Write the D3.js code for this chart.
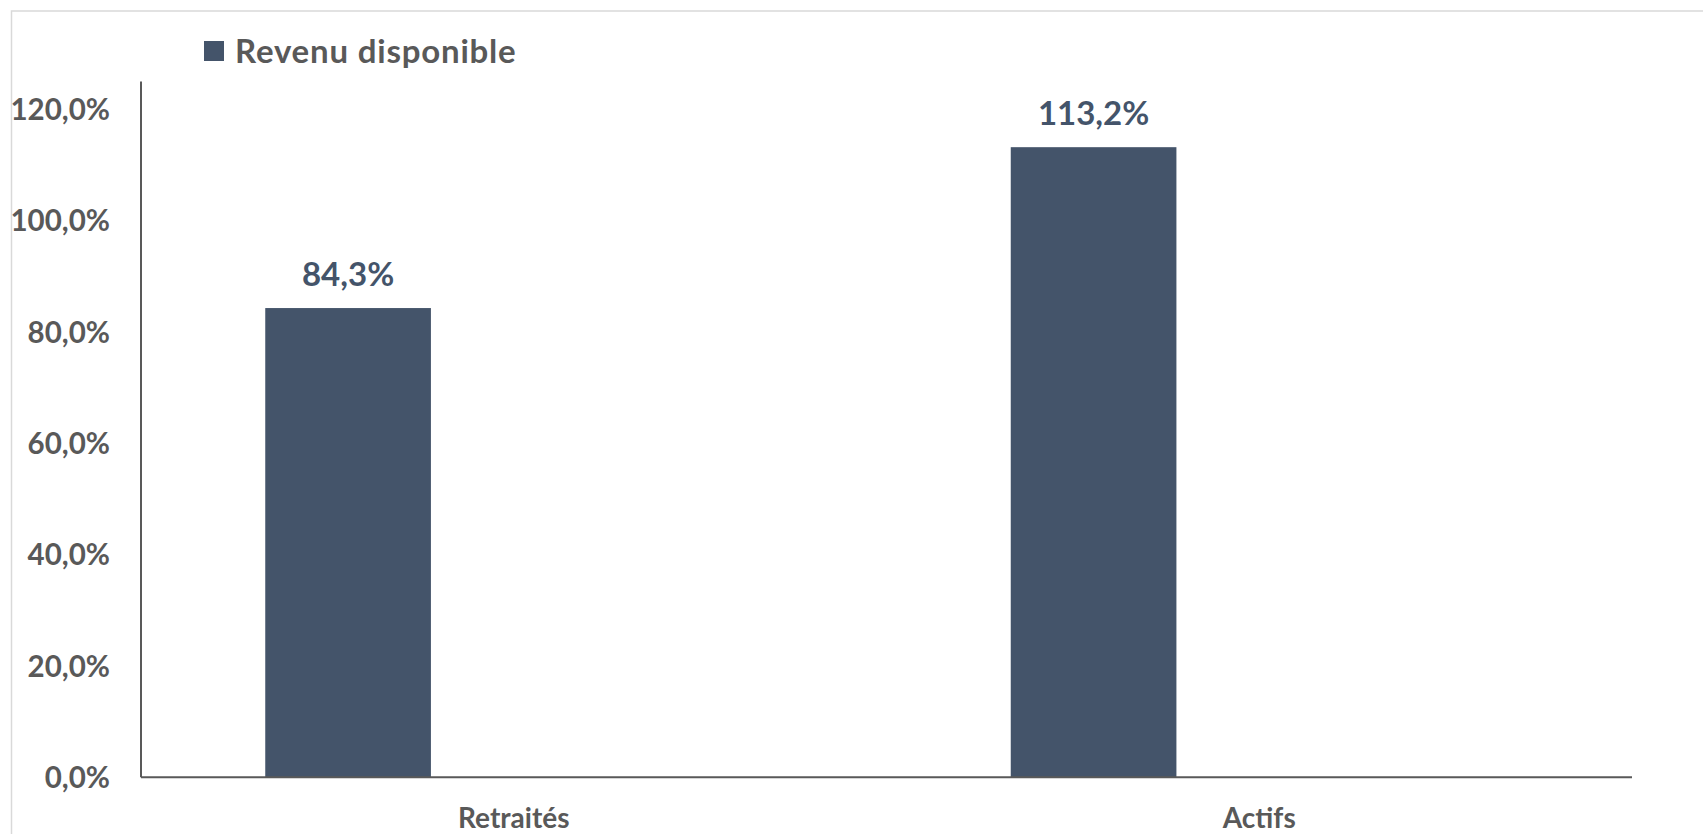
<!DOCTYPE html>
<html>
<head>
<meta charset="utf-8">
<script src="https://cdn.jsdelivr.net/npm/d3@7"></script>
<style>
  html, body { margin: 0; padding: 0; background: #ffffff; }
  svg { display: block; }
</style>
</head>
<body>
<svg id="chart" width="1703" height="834"></svg>
<script>
// ---- data ----
const categories = ["Retraités", "Actifs"];
const seriesNames = ["Revenu disponible"];
const seriesValues = [84.3, 113.2];
// Excel cluster holds 3 series slots; only the first is populated
const clusterSlots = ["Revenu disponible", "slot2", "slot3"];
const yTicks = [0, 20, 40, 60, 80, 100, 120];
const yTickLabels = ["0,0%", "20,0%", "40,0%", "60,0%", "80,0%", "100,0%", "120,0%"];
const valueLabels = ["84,3%", "113,2%"];

// ---- layout ----
const W = 1703, H = 834;
const plot = { left: 141, right: 1632, top: 81.5, bottom: 777.3 };
const barColor = "#44546a";
const textColor = "#595959";
const axisColor = "#595959";
const font = "Lato, 'Open Sans', sans-serif";

const svg = d3.select("#chart");

// outer chart border
svg.append("rect")
  .attr("x", 11.5).attr("y", 11)
  .attr("width", W + 20).attr("height", H + 20)
  .attr("fill", "none")
  .attr("stroke", "#d9d9d9")
  .attr("stroke-width", 1.5);

const x0 = d3.scaleBand()
  .domain(categories)
  .range([plot.left, plot.right])
  .paddingInner(0).paddingOuter(0);

const x1 = d3.scaleBand()
  .domain(clusterSlots)
  .range([0, x0.bandwidth()])
  .paddingInner(0).paddingOuter(0.75);

const y = d3.scaleLinear()
  .domain([0, 125])
  .range([plot.bottom, plot.top]);

// bars
const data = categories.map((c, i) => ({ cat: c, value: seriesValues[i], label: valueLabels[i] }));

svg.append("g").selectAll("rect")
  .data(data)
  .join("rect")
  .attr("x", d => x0(d.cat) + x1(seriesNames[0]))
  .attr("y", d => y(d.value))
  .attr("width", x1.bandwidth())
  .attr("height", d => y(0) - y(d.value))
  .attr("fill", barColor);

// value labels
svg.append("g").selectAll("text")
  .data(data)
  .join("text")
  .attr("x", d => x0(d.cat) + x1(seriesNames[0]) + x1.bandwidth() / 2)
  .attr("y", d => y(d.value) - 22)
  .attr("text-anchor", "middle")
  .attr("font-family", font)
  .attr("font-weight", "bold")
  .attr("font-size", 33)
  .attr("fill", barColor)
  .text(d => d.label);

// y axis
const yAxis = d3.axisLeft(y)
  .tickValues(yTicks)
  .tickSize(0)
  .tickPadding(31)
  .tickFormat((d, i) => yTickLabels[i]);

const gy = svg.append("g")
  .attr("transform", `translate(${plot.left},0)`)
  .call(yAxis);
gy.select(".domain")
  .attr("d", `M0,${plot.top}V${plot.bottom}`)
  .attr("stroke", axisColor).attr("stroke-width", 2);
gy.selectAll(".tick text")
  .attr("font-family", font)
  .attr("font-weight", "bold")
  .attr("font-size", 29.5)
  .attr("fill", textColor)
  .attr("dy", "0.35em");

// x axis
const xAxis = d3.axisBottom(x0).tickSize(0).tickPadding(31);
const gx = svg.append("g")
  .attr("transform", `translate(0,${plot.bottom})`)
  .call(xAxis);
gx.select(".domain")
  .attr("d", `M${plot.left},0H${plot.right}`)
  .attr("stroke", axisColor).attr("stroke-width", 2);
gx.selectAll(".tick text")
  .attr("font-family", font)
  .attr("font-weight", "bold")
  .attr("font-size", 28)
  .attr("fill", textColor)
  .attr("dy", "0.71em");

// legend
const legend = svg.append("g").attr("transform", "translate(204,41)");
legend.selectAll("rect")
  .data(seriesNames)
  .join("rect")
  .attr("x", 0).attr("y", 0)
  .attr("width", 20).attr("height", 20)
  .attr("fill", barColor);
legend.selectAll("text")
  .data(seriesNames)
  .join("text")
  .attr("x", 31).attr("y", 22)
  .attr("font-family", font)
  .attr("font-weight", "bold")
  .attr("font-size", 33)
  .attr("letter-spacing", 0.8)
  .attr("fill", textColor)
  .text(d => d);
</script>
</body>
</html>
